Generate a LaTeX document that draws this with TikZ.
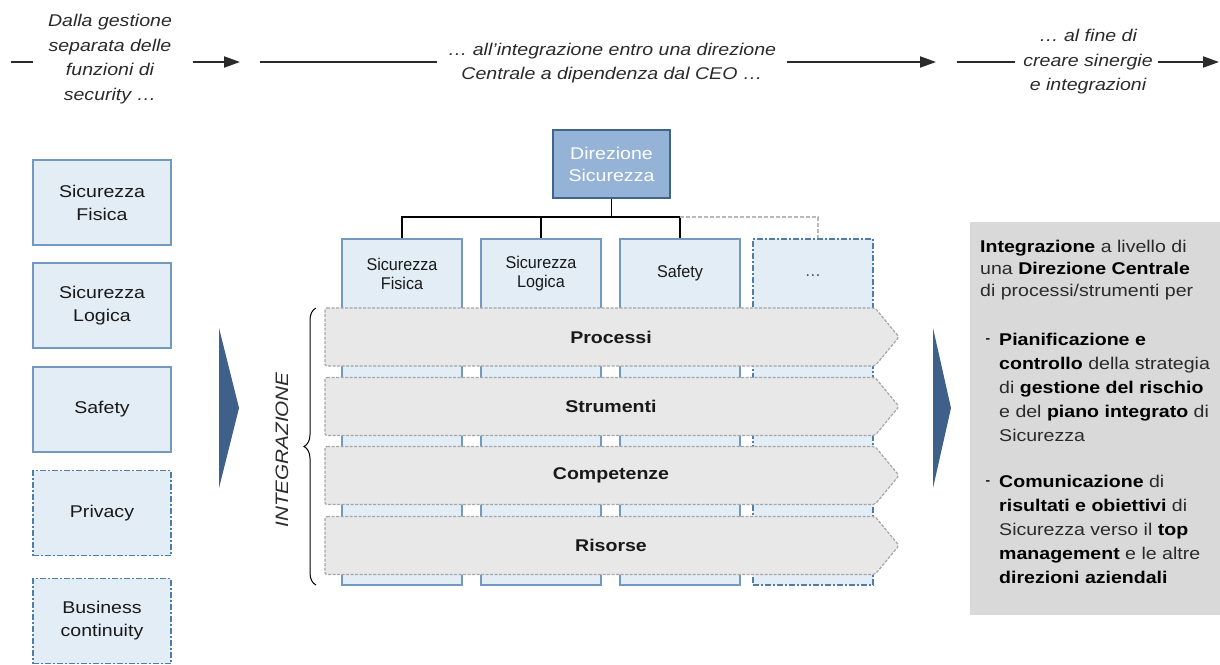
\documentclass[tikz,border=0pt]{standalone}
\usepackage{fontspec}
\setmainfont{Liberation Sans}[FakeStretch=1.15]
\newfontfamily\narrowfont{Liberation Sans}[FakeStretch=0.95]
\usetikzlibrary{arrows.meta,decorations.pathreplacing,calc}
\definecolor{boxfill}{HTML}{E2EDF6}
\definecolor{boxline}{HTML}{7399C0}
\definecolor{dashline}{HTML}{4F7DAA}
\definecolor{dirfill}{HTML}{95B3D7}
\definecolor{dirline}{HTML}{41648A}
\definecolor{bandfill}{HTML}{E8E8E8}
\definecolor{bandline}{HTML}{A6A6A6}
\definecolor{chevfill}{HTML}{3E6089}
\definecolor{panel}{HTML}{D9D9D9}
\definecolor{txt}{HTML}{2A2A2A}
\newcommand\fsz[2]{\fontsize{#1}{#2}\selectfont}
\newcommand\bk[1]{\textbf{\color{black}#1}}
\begin{document}
\begin{tikzpicture}[x=1pt,y=-1pt,
 toptext/.style={font=\fsz{17}{24.5}\itshape, text=txt, align=center, inner sep=0pt},
 flow/.style={line width=2pt, draw=txt},
 flowarrow/.style={flow, -{Triangle[length=16pt,width=11pt]}},
 lbox/.style={draw=boxline, fill=boxfill, line width=1.6pt, minimum width=138pt, minimum height=85pt, align=center, font=\fsz{17}{23}, text=black!90, inner sep=0pt},
 dbox/.style={lbox, draw=dashline, dash pattern=on 6pt off 2pt on 2pt off 2pt},
 colbox/.style={draw=boxline, fill=boxfill, line width=1.6pt, minimum width=120pt, minimum height=346pt, inner sep=0pt},
 dcolbox/.style={colbox, draw=dashline, dash pattern=on 6pt off 2pt on 2pt off 2pt},
 coltext/.style={font=\narrowfont\fsz{17}{19}, align=center, inner sep=0pt, text=black!90},
 band/.style={fill=bandfill, draw=bandline, dash pattern=on 3pt off 1.5pt, line width=1.2pt, rounded corners=2pt},
 bandtext/.style={inner sep=0pt, font=\bfseries\fsz{17}{20}, text=black!90},
 chev/.style={fill=chevfill, draw=none},
 tree/.style={line width=1.5pt, draw=black},
 ptext/.style={anchor=north west, inner sep=0pt, align=left, text=txt},
 bullet/.style={inner sep=0pt, font=\bfseries\fsz{12}{12}},
]
\useasboundingbox (0,0) rectangle (1220,664);
\clip (0,0) rectangle (1220,664);

% top flow
\node[toptext] (t1) at (110,59) {Dalla gestione\\separata delle\\funzioni di\\security …};
\node[toptext] (t2) at (612,63) {… all’integrazione entro una direzione\\Centrale a dipendenza dal CEO …};
\node[toptext] (t3) at (1088,62) {… al fine di\\creare sinergie\\e integrazioni};
\coordinate (s0) at (11,62); \coordinate (s0e) at (33,62);
\coordinate (a1s) at (193,62); \coordinate (a1e) at (240,62);
\coordinate (b1s) at (260,62); \coordinate (b1e) at (437,62);
\coordinate (a2s) at (787,62); \coordinate (a2e) at (936,62);
\coordinate (b2s) at (957,62); \coordinate (b2e) at (1015,62);
\coordinate (a3s) at (1158,62); \coordinate (a3e) at (1219,62);
\draw[flow] (s0) -- (s0e);
\draw[flowarrow] (a1s) -- (a1e);
\draw[flow] (b1s) -- (b1e);
\draw[flowarrow] (a2s) -- (a2e);
\draw[flow] (b2s) -- (b2e);
\draw[flowarrow] (a3s) -- (a3e);

% left column
\node[lbox] (l1) at (102,202.5) {Sicurezza\\Fisica};
\node[lbox] (l2) at (102,305.5) {Sicurezza\\Logica};
\node[lbox] (l3) at (102,409.5) {Safety};
\node[dbox] (l4) at (102,513) {Privacy};
\node[dbox] (l5) at (102,621) {Business\\continuity};

% chevrons
\fill[chev] (219,328) -- (239,408) -- (219,488) -- cycle;
\fill[chev] (933,328) -- (951,408) -- (933,488) -- cycle;

% columns
\node[colbox] (cA) at (402,412) {};
\node[colbox] (cB) at (541,412) {};
\node[colbox] (cC) at (680,412) {};
\node[dcolbox] (cD) at (813,412) {};
\node[coltext] (cAt) at (402,274) {Sicurezza\\Fisica};
\node[coltext] (cBt) at (541,274) {Sicurezza\\Logica};
\node[coltext] (cCt) at (680,273) {Safety};
\node[coltext, text=black!70] (cDt) at (813,276) {…};

% direction box and tree
\node[draw=dirline, fill=dirfill, line width=1.6pt, minimum width=117pt, minimum height=68pt, text=white, font=\fsz{17}{22}, align=center, inner sep=0pt] (dir) at (611.5,164) {Direzione\\Sicurezza};
\coordinate (tj) at (611.5,217);
\draw[tree] (dir.south) -- (tj);
\draw[tree] (cA.north) -- (cA.north |- tj) -- (cC.north |- tj) -- (cC.north);
\draw[tree] (cB.north) -- (cB.north |- tj);
\draw[line width=1.5pt, draw=bandline!80, dash pattern=on 4pt off 2pt] (cC.north |- tj) -- ($(cD.north |- tj)+(5,0)$) -- ($(cD.north)+(5,0)$);

% bands
\draw[band] (325,308) -- (875,308) -- (899,337) -- (875,366) -- (325,366) -- cycle;
\draw[band] (325,377.5) -- (875,377.5) -- (899,406.5) -- (875,435.5) -- (325,435.5) -- cycle;
\draw[band] (325,446.5) -- (875,446.5) -- (899,475.5) -- (875,504.5) -- (325,504.5) -- cycle;
\draw[band] (325,516.5) -- (875,516.5) -- (899,545.5) -- (875,574.5) -- (325,574.5) -- cycle;
\node[bandtext] (bp) at (611,337) {Processi};
\node[bandtext] (bs) at (611,406.5) {Strumenti};
\node[bandtext] (bc) at (611,475.5) {Competenze};
\node[bandtext] (br) at (611,545.5) {Risorse};

% brace and label
\draw[line width=1pt, decorate, decoration={brace, amplitude=12pt}] (316,585) -- (316,308);
\node[rotate=90, font=\itshape\fsz{18}{20}, text=txt, inner sep=0pt] (integ) at (282,450) {INTEGRAZIONE};

% right panel
\node[fill=panel, minimum width=250pt, minimum height=393pt, inner sep=0pt] (panel) at (1095,418.5) {};
\node[ptext, font=\fsz{17}{22}] (ph) at (980,240) {\bk{Integrazione} a livello di\\una \bk{Direzione Centrale}\\di processi/strumenti per};
\node[ptext, font=\fsz{17}{24}] (pb1) at (999,333) {\bk{Pianificazione e}\\\bk{controllo} della strategia\\di \bk{gestione del rischio}\\e del \bk{piano integrato} di\\Sicurezza};
\node[ptext, font=\fsz{17}{24}] (pb2) at (999,475) {\bk{Comunicazione} di\\\bk{risultati e obiettivi} di\\Sicurezza verso il \bk{top}\\\bk{management} e le altre\\\bk{direzioni aziendali}};
\node[bullet] (pd1) at (988,341) {-};
\node[bullet] (pd2) at (988,483) {-};
\end{tikzpicture}
\end{document}
